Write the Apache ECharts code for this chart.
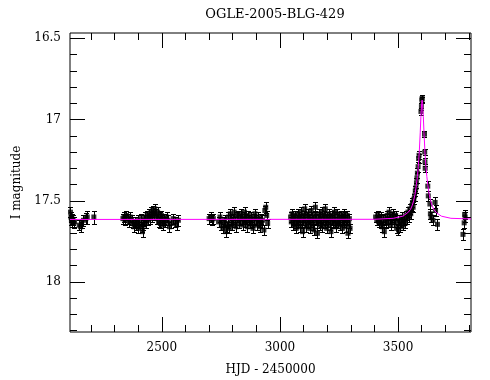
<!DOCTYPE html>
<html><head><meta charset="utf-8">
<script src="https://cdn.jsdelivr.net/npm/echarts@6/dist/echarts.min.js"></script>
<style>html,body{margin:0;padding:0;background:#fff}#c{width:490px;height:380px}</style>
</head><body><div id="c"></div>
<script>
// ---- data: [HJD-2450000, I mag, error] ----
const season2001 = [[2113,17.57,0.03],[2115,17.60,0.03],[2117,17.62,0.03],[2119,17.61,0.03],[2121,17.63,0.03],[2124,17.62,0.03],[2126,17.64,0.03],[2130,17.63,0.03],[2150,17.65,0.03],[2156,17.66,0.03],[2160,17.64,0.03],[2168,17.62,0.035],[2178,17.61,0.035],[2184,17.60,0.04],[2212,17.60,0.04]];
const season2002 = [[2335,17.61,0.03],[2340,17.60,0.03],[2344,17.62,0.03],[2350,17.59,0.03],[2356,17.61,0.03],[2362,17.63,0.03],[2366,17.60,0.03],[2372,17.62,0.03],[2378,17.64,0.03],[2383,17.66,0.03],[2388,17.63,0.03],[2392,17.65,0.03],[2397,17.62,0.03],[2401,17.67,0.03],[2405,17.64,0.03],[2410,17.61,0.03],[2414,17.66,0.03],[2418,17.69,0.035],[2422,17.65,0.03],[2426,17.62,0.03],[2430,17.60,0.03],[2434,17.64,0.03],[2438,17.59,0.03],[2442,17.62,0.03],[2446,17.58,0.03],[2450,17.61,0.03],[2454,17.57,0.03],[2458,17.60,0.03],[2462,17.56,0.03],[2466,17.59,0.03],[2470,17.55,0.03],[2474,17.58,0.03],[2478,17.61,0.03],[2482,17.57,0.03],[2486,17.63,0.03],[2490,17.60,0.03],[2494,17.64,0.03],[2498,17.59,0.03],[2502,17.62,0.03],[2506,17.65,0.03],[2510,17.61,0.03],[2515,17.63,0.03],[2520,17.60,0.03],[2526,17.62,0.03],[2532,17.66,0.03],[2540,17.64,0.03],[2548,17.61,0.03],[2556,17.63,0.03],[2562,17.65,0.03],[2570,17.62,0.035]];
const season2003 = [[2700,17.61,0.03],[2706,17.60,0.03],[2712,17.62,0.03],[2718,17.61,0.03],[2740,17.63,0.03],[2746,17.60,0.03],[2752,17.65,0.03],[2758,17.67,0.03],[2762,17.63,0.03],[2766,17.62,0.03],[2770,17.69,0.035],[2774,17.66,0.03],[2778,17.64,0.03],[2782,17.60,0.03],[2786,17.67,0.03],[2790,17.58,0.03],[2794,17.62,0.03],[2798,17.65,0.03],[2802,17.61,0.03],[2806,17.57,0.03],[2810,17.63,0.03],[2814,17.66,0.03],[2818,17.60,0.03],[2822,17.59,0.03],[2826,17.64,0.03],[2830,17.62,0.03],[2834,17.58,0.03],[2838,17.61,0.03],[2842,17.65,0.03],[2846,17.60,0.03],[2850,17.57,0.03],[2854,17.63,0.03],[2858,17.61,0.03],[2862,17.66,0.03],[2866,17.59,0.03],[2870,17.62,0.03],[2874,17.64,0.03],[2878,17.60,0.03],[2882,17.63,0.03],[2886,17.67,0.03],[2890,17.61,0.03],[2894,17.58,0.03],[2898,17.62,0.03],[2902,17.65,0.03],[2906,17.60,0.03],[2910,17.63,0.03],[2914,17.66,0.03],[2918,17.61,0.03],[2922,17.64,0.03],[2926,17.62,0.03],[2932,17.68,0.03],[2936,17.56,0.03],[2940,17.54,0.035],[2944,17.59,0.03],[2948,17.64,0.03]];
const season2004 = [[3045,17.60,0.03],[3048,17.63,0.03],[3051,17.58,0.03],[3054,17.62,0.03],[3057,17.65,0.03],[3060,17.61,0.03],[3063,17.59,0.03],[3066,17.64,0.03],[3069,17.67,0.03],[3072,17.62,0.03],[3075,17.58,0.03],[3078,17.63,0.03],[3081,17.60,0.03],[3084,17.66,0.03],[3087,17.61,0.03],[3090,17.57,0.03],[3093,17.64,0.03],[3096,17.69,0.03],[3099,17.62,0.03],[3102,17.59,0.03],[3105,17.55,0.03],[3108,17.63,0.03],[3111,17.66,0.03],[3114,17.60,0.03],[3117,17.64,0.03],[3120,17.58,0.03],[3123,17.61,0.03],[3126,17.67,0.03],[3129,17.63,0.03],[3132,17.56,0.03],[3135,17.60,0.03],[3138,17.65,0.03],[3141,17.62,0.03],[3144,17.68,0.03],[3147,17.59,0.03],[3150,17.54,0.03],[3153,17.61,0.03],[3156,17.64,0.03],[3159,17.70,0.03],[3162,17.62,0.03],[3165,17.58,0.03],[3168,17.65,0.03],[3171,17.60,0.03],[3174,17.63,0.03],[3177,17.57,0.03],[3180,17.66,0.03],[3183,17.61,0.03],[3186,17.59,0.03],[3189,17.64,0.03],[3192,17.55,0.03],[3195,17.62,0.03],[3198,17.67,0.03],[3201,17.60,0.03],[3204,17.63,0.03],[3207,17.58,0.03],[3210,17.65,0.03],[3213,17.61,0.03],[3216,17.69,0.03],[3219,17.62,0.03],[3222,17.59,0.03],[3225,17.64,0.03],[3228,17.60,0.03],[3231,17.57,0.03],[3234,17.63,0.03],[3237,17.66,0.03],[3240,17.61,0.03],[3243,17.58,0.03],[3246,17.64,0.03],[3249,17.62,0.03],[3252,17.60,0.03],[3255,17.65,0.03],[3258,17.59,0.03],[3261,17.62,0.03],[3264,17.67,0.03],[3267,17.61,0.03],[3270,17.58,0.03],[3273,17.63,0.03],[3276,17.60,0.03],[3279,17.66,0.03],[3282,17.62,0.03],[3285,17.59,0.03],[3288,17.70,0.03],[3291,17.64,0.03],[3294,17.61,0.03],[3297,17.67,0.03]];
const season2005 = [[3405,17.60,0.03],[3410,17.62,0.03],[3414,17.59,0.03],[3418,17.63,0.03],[3422,17.61,0.03],[3426,17.64,0.03],[3430,17.60,0.03],[3434,17.66,0.03],[3438,17.62,0.03],[3442,17.69,0.03],[3446,17.61,0.03],[3450,17.64,0.03],[3454,17.59,0.03],[3458,17.63,0.03],[3462,17.57,0.03],[3466,17.61,0.03],[3470,17.65,0.03],[3474,17.60,0.03],[3478,17.58,0.03],[3482,17.63,0.03],[3486,17.61,0.03],[3490,17.59,0.03],[3494,17.67,0.03],[3498,17.64,0.03],[3502,17.68,0.03],[3506,17.62,0.03],[3510,17.66,0.03],[3514,17.63,0.03],[3518,17.60,0.03],[3522,17.65,0.03],[3526,17.62,0.03],[3530,17.64,0.03],[3534,17.59,0.03],[3538,17.61,0.03],[3542,17.57,0.03],[3546,17.60,0.03],[3550,17.55,0.03],[3554,17.58,0.03],[3558,17.53,0.03],[3561,17.51,0.03],[3564,17.54,0.03],[3567,17.49,0.03],[3570,17.47,0.03],[3573,17.44,0.03],[3576,17.42,0.03],[3578,17.39,0.03],[3580,17.36,0.03],[3582,17.33,0.03],[3585,17.29,0.03],[3587,17.24,0.025],[3589,17.22,0.025],[3597,16.95,0.02],[3599,16.92,0.02],[3601,16.88,0.02],[3602,16.87,0.02],[3612,17.09,0.02],[3613,17.20,0.02],[3614,17.26,0.025],[3615,17.30,0.025],[3626,17.41,0.03],[3628,17.47,0.03],[3635,17.52,0.03],[3637,17.58,0.03],[3640,17.60,0.03],[3648,17.62,0.03],[3657,17.51,0.035],[3659,17.56,0.035],[3667,17.645,0.035]];
const season2006 = [[3775,17.707,0.035],[3780,17.636,0.03],[3782,17.584,0.03],[3784,17.60,0.03]];
// model light curve
const modelHJD = [2111,3400,3480,3520,3540,3552,3560,3566,3572,3578,3582,3586,3590,3594,3597,3600,3602,3604,3607,3610,3614,3618,3622,3626,3632,3638,3644,3652,3664,3684,3724,3809];
const modelMag = [17.615,17.614,17.608,17.595,17.575,17.555,17.53,17.50,17.46,17.40,17.35,17.29,17.20,17.08,16.98,16.90,16.88,16.90,16.98,17.08,17.20,17.29,17.35,17.40,17.46,17.50,17.53,17.555,17.575,17.595,17.608,17.612];
// ticks
const xMajor = [2500,3000,3500];
const xMinor = [2200,2300,2400,2600,2700,2800,2900,3100,3200,3300,3400,3600,3700,3800];
const yMajor = [16.5,17,17.5,18];
const yMinor = [16.6,16.7,16.8,16.9,17.1,17.2,17.3,17.4,17.6,17.7,17.8,17.9,18.1,18.2,18.3];

const allPts = [].concat(season2001, season2002, season2003, season2004, season2005, season2006);
const XMIN = 2111, XMAX = 3809, YMIN = 16.467, YMAX = 18.308;
const FONT = 'DejaVu Serif';

function xAx(pos, ticks, len, labels, extra) {
  return Object.assign({
    type: 'value', position: pos, min: XMIN, max: XMAX,
    axisLine: {show: false}, splitLine: {show: false},
    axisTick: {show: true, inside: true, length: len, customValues: ticks, lineStyle: {color: '#000', width: 1}},
    axisLabel: labels ? {show: true, customValues: ticks, color: '#000', fontFamily: FONT, fontSize: 12, margin: 10, formatter: v => String(v)} : {show: false}
  }, extra || {});
}
function yAx(pos, ticks, len, labels, extra) {
  return Object.assign({
    type: 'value', position: pos, min: YMIN, max: YMAX, inverse: true,
    axisLine: {show: false}, splitLine: {show: false},
    axisTick: {show: true, inside: true, length: len, customValues: ticks, lineStyle: {color: '#000', width: 1}},
    axisLabel: labels ? {show: true, customValues: ticks, color: '#000', fontFamily: FONT, fontSize: 12, margin: 9, formatter: v => String(v)} : {show: false}
  }, extra || {});
}

const chart = echarts.init(document.getElementById('c'), null, {renderer: 'canvas'});
chart.setOption({
  animation: false,
  backgroundColor: '#fff',
  title: {text: 'OGLE-2005-BLG-429', left: 270, top: 3, textAlign: 'center',
    textStyle: {fontFamily: FONT, fontSize: 13, fontWeight: 'normal', color: '#000'}},
  grid: {left: 70, right: 19, top: 33, bottom: 48, containLabel: false, outerBoundsMode: 'none',
    show: true, borderColor: '#000', borderWidth: 1, backgroundColor: 'transparent'},
  xAxis: [
    xAx('bottom', xMajor, 15, true, {name: 'HJD - 2450000', nameLocation: 'middle', nameGap: 32,
      nameTextStyle: {fontFamily: FONT, fontSize: 12, color: '#000'}}),
    xAx('bottom', xMinor, 7, false),
    xAx('top', xMajor, 15, false),
    xAx('top', xMinor, 7, false)
  ],
  yAxis: [
    yAx('left', yMajor, 15, true, {name: 'I magnitude', nameLocation: 'middle', nameGap: 47, nameRotate: 90,
      nameTextStyle: {fontFamily: FONT, fontSize: 12, color: '#000'}}),
    yAx('left', yMinor, 7, false),
    yAx('right', yMajor, 15, false),
    yAx('right', yMinor, 7, false)
  ],
  series: [
    {
      type: 'custom', xAxisIndex: 0, yAxisIndex: 0, z: 2,
      data: allPts,
      renderItem: function (params, api) {
        const t = api.value(0), m = api.value(1), e = api.value(2);
        const top = api.coord([t, m - e]);
        const bot = api.coord([t, m + e]);
        const cx = Math.round(top[0]) + 0.5;
        const y1 = Math.round(top[1]) + 0.5, y2 = Math.round(bot[1]) + 0.5;
        const st = {stroke: '#000', lineWidth: 1};
        return {type: 'group', children: [
          {type: 'line', shape: {x1: cx, y1: y1, x2: cx, y2: y2}, style: st},
          {type: 'line', shape: {x1: cx - 2.5, y1: y1, x2: cx + 2.5, y2: y1}, style: st},
          {type: 'line', shape: {x1: cx - 2.5, y1: y2, x2: cx + 2.5, y2: y2}, style: st}
        ]};
      }
    },
    {
      type: 'scatter', xAxisIndex: 0, yAxisIndex: 0, z: 3,
      data: allPts.map(p => [p[0], p[1]]),
      symbol: 'rect', symbolSize: 5, itemStyle: {color: '#000'}
    },
    {
      type: 'line', xAxisIndex: 0, yAxisIndex: 0, z: 4,
      data: modelHJD.map((t, i) => [t, modelMag[i]]),
      showSymbol: false, smooth: false,
      lineStyle: {color: '#ff00ff', width: 1}
    }
  ]
});
</script></body></html>
